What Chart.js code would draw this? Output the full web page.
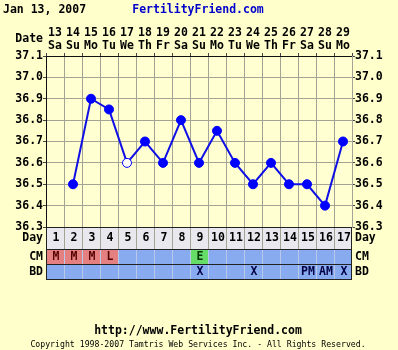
<!DOCTYPE html>
<html>
<head>
<meta charset="utf-8">
<script src="https://cdn.jsdelivr.net/npm/chart.js@4/dist/chart.umd.min.js"></script>
<style>
  html, body { margin: 0; padding: 0; background: #FFFFCC; }
  canvas { display: block; }
</style>
</head>
<body>
<canvas id="bbt" width="398" height="350"></canvas>
<script>
// chart data
var dates = ["13", "14", "15", "16", "17", "18", "19", "20", "21", "22", "23", "24", "25", "26", "27", "28", "29"];
var weekdays = ["Sa", "Su", "Mo", "Tu", "We", "Th", "Fr", "Sa", "Su", "Mo", "Tu", "We", "Th", "Fr", "Sa", "Su", "Mo"];
var temps = [null, 36.5, 36.9, 36.85, 36.6, 36.7, 36.6, 36.8, 36.6, 36.75, 36.6, 36.5, 36.6, 36.5, 36.5, 36.4, 36.7];
var openTemps = [false, false, false, false, true, false, false, false, false, false, false, false, false, false, false, false, false];
var cycleDays = [1, 2, 3, 4, 5, 6, 7, 8, 9, 10, 11, 12, 13, 14, 15, 16, 17];
var cmMarks = ["M", "M", "M", "L", "", "", "", "", "E", "", "", "", "", "", "", "", ""];
var bdMarks = ["", "", "", "", "", "", "", "", "X", "", "", "X", "", "", "PM", "AM", "X"];
var tempTicks = [36.3, 36.4, 36.5, 36.6, 36.7, 36.8, 36.9, 37.0, 37.1];
var startDate = "Jan 13, 2007";

var MONO = "'DejaVu Sans Mono', monospace";
var BOLD = "bold 11.5px " + MONO;
var gridCol = "#a4a496";

var xLabels = [];
for (let i = 0; i < dates.length; i++) {
    xLabels.push([dates[i], weekdays[i]]);
}

var cellColors = { M: "#e48080", L: "#e48080", E: "#66dd66" };

// stuff drawn around the plot: header, table rows, footer
var extras = {
    id: "extras",
    beforeDraw: function(chart) {
        const c = chart.ctx;
        const a = chart.chartArea;
        c.save();
        c.fillStyle = "#FFFFCC";
        c.fillRect(0, 0, chart.width, chart.height);
        c.fillStyle = "#FFFFD2";
        c.fillRect(a.left, a.top, a.right - a.left, a.bottom - a.top);
        c.restore();
    },
    afterDraw: function(chart) {
        const c = chart.ctx;
        const a = chart.chartArea;
        const xs = chart.scales.x;
        const w = (a.right - a.left) / cycleDays.length;
        const rows = [a.bottom, a.bottom + 22, a.bottom + 37, a.bottom + 52];
        c.save();

        // header
        c.font = BOLD;
        c.textBaseline = "middle";
        c.fillStyle = "#000";
        c.textAlign = "left";
        c.fillText(startDate, 3, 10);
        c.fillStyle = "#0000cc";
        c.textAlign = "center";
        c.fillText("FertilityFriend.com", 198, 10);
        c.fillStyle = "#000";
        c.textAlign = "right";
        c.fillText("Date", a.left - 3, 39);

        // table backgrounds
        c.fillStyle = "#e8e8ee";
        c.fillRect(a.left, rows[0], a.right - a.left, rows[1] - rows[0]);
        c.fillStyle = "#88aaee";
        c.fillRect(a.left, rows[1], a.right - a.left, rows[3] - rows[1]);
        for (let i = 0; i < cycleDays.length; i++) {
            const x0 = xs.getPixelForValue(i) - w / 2;
            if (cellColors[cmMarks[i]]) {
                c.fillStyle = cellColors[cmMarks[i]];
                c.fillRect(x0 + 1, rows[1] + 1, w - 1, rows[2] - rows[1] - 1);
            }
        }

        // table grid
        c.lineWidth = 1;
        c.strokeStyle = gridCol;
        for (let i = 1; i < cycleDays.length; i++) {
            const x = Math.round(xs.getPixelForValue(i) - w / 2) + 0.5;
            c.beginPath();
            c.moveTo(x, rows[0]);
            c.lineTo(x, rows[1]);
            c.stroke();
        }
        c.strokeStyle = "#b8c8e8";
        for (let i = 1; i < cycleDays.length; i++) {
            const x = Math.round(xs.getPixelForValue(i) - w / 2) + 0.5;
            c.beginPath();
            c.moveTo(x, rows[1]);
            c.lineTo(x, rows[3]);
            c.stroke();
        }
        c.strokeStyle = "#222";
        for (let r = 0; r < rows.length; r++) {
            c.beginPath();
            c.moveTo(a.left, Math.round(rows[r]) + 0.5);
            c.lineTo(a.right, Math.round(rows[r]) + 0.5);
            c.stroke();
        }
        c.beginPath();
        c.moveTo(Math.round(a.left) + 0.5, rows[0]);
        c.lineTo(Math.round(a.left) + 0.5, rows[3]);
        c.moveTo(Math.round(a.right) - 0.5, rows[0]);
        c.lineTo(Math.round(a.right) - 0.5, rows[3]);
        c.stroke();

        // table text
        c.font = BOLD;
        c.textAlign = "center";
        for (let i = 0; i < cycleDays.length; i++) {
            const x = xs.getPixelForValue(i) + 1;
            c.fillStyle = "#000";
            c.fillText(String(cycleDays[i]), x, rows[0] + 11.5);
            c.fillStyle = cmMarks[i] == "E" ? "#003300" : "#550000";
            c.fillText(cmMarks[i], x, rows[1] + 8);
            c.fillStyle = "#000044";
            c.fillText(bdMarks[i], x, rows[2] + 8);
        }
        c.fillStyle = "#000";
        const names = ["Day", "CM", "BD"];
        const mids = [rows[0] + 11.5, rows[1] + 8, rows[2] + 8];
        for (let r = 0; r < 3; r++) {
            c.textAlign = "right";
            c.fillText(names[r], a.left - 3, mids[r]);
            c.textAlign = "left";
            c.fillText(names[r], a.right + 3, mids[r]);
        }

        // footer
        c.textAlign = "center";
        c.fillText("http://www.FertilityFriend.com", 198, 331);
        c.font = "8.2px " + MONO;
        c.fillText("Copyright 1998-2007 Tamtris Web Services Inc. - All Rights Reserved.", 198, 345);
        c.restore();
    }
};

var ctx = document.getElementById("bbt").getContext("2d");
var myChart = new Chart(ctx, {
    type: "line",
    data: {
        labels: xLabels,
        datasets: [{
            data: temps,
            borderColor: "#1010e6",
            borderWidth: 2,
            pointRadius: 4.5,
            pointBorderWidth: 1,
            pointBorderColor: "#0000ff",
            pointBackgroundColor: openTemps.map(o => o ? "#ffffff" : "#0000ff"),
            tension: 0,
            yAxisID: "y",
        }],
    },
    options: {
        responsive: false,
        devicePixelRatio: 1,
        animation: false,
        layout: { padding: { bottom: 123 } },
        plugins: {
            legend: { display: false },
            tooltip: { enabled: false },
        },
        scales: {
            x: {
                position: "top",
                offset: true,
                grid: { offset: true, color: gridCol, tickLength: 3, tickColor: "#444" },
                border: { color: "#111", width: 1 },
                ticks: {
                    color: "#000",
                    padding: 0,
                    maxRotation: 0,
                    autoSkip: false,
                    font: { family: MONO, size: 11.5, weight: "bold", lineHeight: "13.5px" },
                },
                afterFit: function(s) { s.height = 56; },
            },
            y: {
                position: "left",
                min: 36.3,
                max: 37.1,
                afterBuildTicks: function(s) { s.ticks = tempTicks.map(v => ({ value: v })); },
                grid: { color: gridCol, tickLength: 3, tickColor: "#444" },
                border: { color: "#111", width: 1 },
                ticks: {
                    color: "#000",
                    padding: 0,
                    font: { family: MONO, size: 11.5, weight: "bold" },
                    callback: v => v.toFixed(1),
                },
                afterFit: function(s) { s.width = 46; },
            },
            y2: {
                position: "right",
                min: 36.3,
                max: 37.1,
                afterBuildTicks: function(s) { s.ticks = tempTicks.map(v => ({ value: v })); },
                grid: { drawOnChartArea: false, tickLength: 3, tickColor: "#444" },
                border: { color: gridCol, width: 1 },
                ticks: {
                    color: "#000",
                    padding: 0,
                    font: { family: MONO, size: 11.5, weight: "bold" },
                    callback: v => v.toFixed(1),
                },
                afterFit: function(s) { s.width = 46; },
            },
        },
    },
    plugins: [extras],
});
</script>
</body>
</html>
